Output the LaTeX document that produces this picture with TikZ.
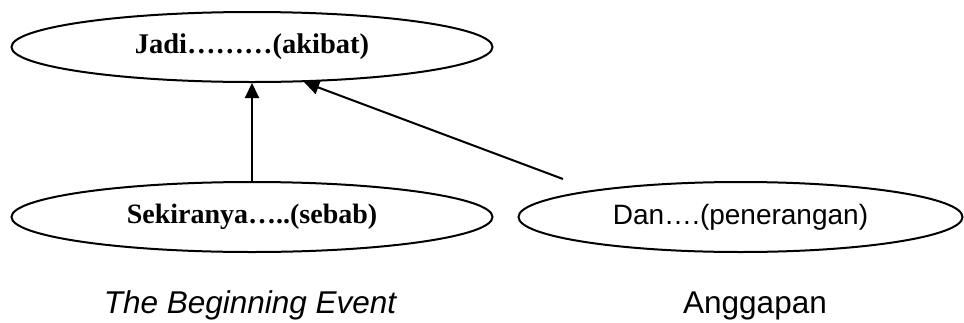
\documentclass[tikz,border=0pt]{standalone}
\usepackage{fontspec}
\setmainfont{Liberation Serif}
\setsansfont{Liberation Sans}
\usepackage{tikz}
\usetikzlibrary{positioning, shapes.geometric, arrows.meta}
\tikzstyle{Arrow} = [
    line width = 2pt,
    -{Triangle[length=15pt, width=14pt]}
]

\begin{document}
\begin{tikzpicture}[
x = 1pt, y = -1pt,
bubble/.style={
    ellipse,
    draw,
    line width = 2pt,
    inner sep = 0pt,
    minimum height = 70pt
    },
caption/.style={
    anchor = base,
    font = \sffamily\fontsize{31.5}{34}\selectfont
    }
]
\useasboundingbox (0,0) rectangle (964,322);

\node [bubble, minimum width = 481pt, font = \bfseries\fontsize{28.5}{30}\selectfont] (1) at (252,47) {Jadi………(akibat)};
\node [bubble, minimum width = 481pt, font = \bfseries\fontsize{28}{30}\selectfont, below = 98pt of 1] (2) {Sekiranya…..(sebab)};
\node [bubble, minimum width = 444pt, font = \sffamily\fontsize{28}{30}\selectfont, right = 24pt of 2] (3) {Dan….(penerangan)};

\node [caption] (4) at (250,313) {\itshape The Beginning Event};
\node [caption] (5) at (755,313) {Anggapan};

\coordinate (tail) at (563,179);

\draw[Arrow] (2.north) -- (1.south);
\draw[Arrow] (tail) -- (1.-34);

\end{tikzpicture}
\end{document}
